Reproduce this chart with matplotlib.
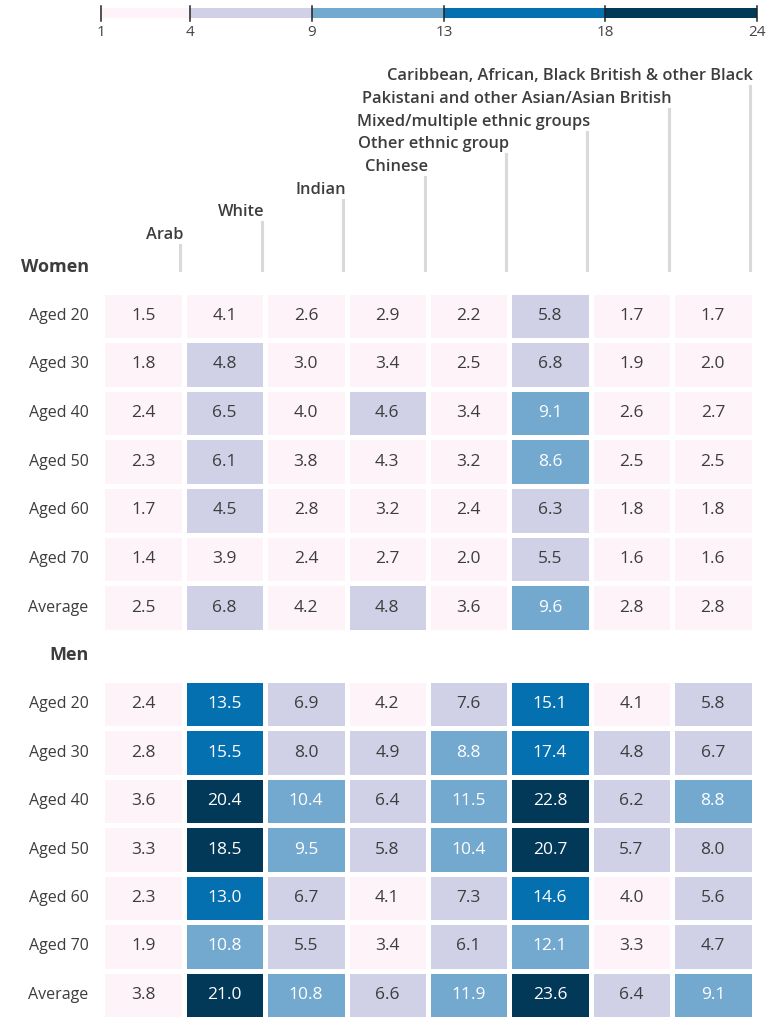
import numpy as np
import matplotlib
matplotlib.use('Agg')
import matplotlib.pyplot as plt
from matplotlib.colors import ListedColormap, BoundaryNorm
from matplotlib.lines import Line2D

plt.rcParams['font.family'] = ['Open Sans', 'DejaVu Sans']

# Data
groups = ['Arab', 'White', 'Indian', 'Chinese', 'Other ethnic group',
          'Mixed/multiple ethnic groups',
          'Pakistani and other Asian/Asian British',
          'Caribbean, African, Black British & other Black']
rows = ['Aged 20', 'Aged 30', 'Aged 40', 'Aged 50', 'Aged 60', 'Aged 70', 'Average']

women = np.array([
    [1.5, 4.1, 2.6, 2.9, 2.2, 5.8, 1.7, 1.7],
    [1.8, 4.8, 3.0, 3.4, 2.5, 6.8, 1.9, 2.0],
    [2.4, 6.5, 4.0, 4.6, 3.4, 9.1, 2.6, 2.7],
    [2.3, 6.1, 3.8, 4.3, 3.2, 8.6, 2.5, 2.5],
    [1.7, 4.5, 2.8, 3.2, 2.4, 6.3, 1.8, 1.8],
    [1.4, 3.9, 2.4, 2.7, 2.0, 5.5, 1.6, 1.6],
    [2.5, 6.8, 4.2, 4.8, 3.6, 9.6, 2.8, 2.8],
])
men = np.array([
    [2.4, 13.5, 6.9, 4.2, 7.6, 15.1, 4.1, 5.8],
    [2.8, 15.5, 8.0, 4.9, 8.8, 17.4, 4.8, 6.7],
    [3.6, 20.4, 10.4, 6.4, 11.5, 22.8, 6.2, 8.8],
    [3.3, 18.5, 9.5, 5.8, 10.4, 20.7, 5.7, 8.0],
    [2.3, 13.0, 6.7, 4.1, 7.3, 14.6, 4.0, 5.6],
    [1.9, 10.8, 5.5, 3.4, 6.1, 12.1, 3.3, 4.7],
    [3.8, 21.0, 10.8, 6.6, 11.9, 23.6, 6.4, 9.1],
])

legend_ticks = ['1', '4', '9', '13', '18', '24']
# colour classes (cut points between displayed colours)
bounds = [0, 4.45, 8.3, 12.5, 18, 25]
colors = ['#fef3f8', '#d0d1e6', '#74a9cf', '#0570b0', '#023858']

# Layout (pixels)
W, H = 773, 1017
fig = plt.figure(figsize=(W / 100, H / 100), dpi=100)
fx = lambda px: px / W
fy = lambda py: 1 - py / H

cmap = ListedColormap(colors)
norm = BoundaryNorm(bounds, cmap.N)
txt_dark = '#3d3d3d'

grid_left, grid_right = 102.5, 753.5
cell_w = (grid_right - grid_left) / len(groups)


def heat(top, bottom, values, title):
    ax = fig.add_axes([fx(grid_left), fy(bottom), fx(grid_right) - fx(grid_left),
                       fy(top) - fy(bottom)])
    ax.pcolormesh(values, cmap=cmap, norm=norm, edgecolors='white', linewidth=2.2)
    ax.set_xlim(0, values.shape[1])
    ax.set_ylim(values.shape[0], 0)
    ax.axis('off')
    for i in range(values.shape[0]):
        ax.text(-0.17, i + 0.5, rows[i], ha='right', va='center',
                fontsize=11.5, color=txt_dark)
        for j in range(values.shape[1]):
            v = values[i, j]
            ax.text(j + 0.5, i + 0.5, '%.1f' % v, ha='center', va='center',
                    fontsize=12.5, color='white' if v >= bounds[2] else txt_dark)
    fig.text(fx(89), fy(top - 25), title, ha='right', va='center',
             fontsize=13, fontweight='bold', color=txt_dark)
    return ax


heat(291.5, 632, women, 'Women')
heat(680, 1019, men, 'Men')

# staggered column headers with guide lines
for j, g in enumerate(groups):
    lx = grid_left + (j + 1) * cell_w - 3.5
    ty = 235 - 22.7 * j
    fig.add_artist(Line2D([fx(lx), fx(lx)], [fy(ty + 10), fy(270)],
                          color='#d9d9d9', linewidth=2.2))
    fig.text(fx(lx + 3), fy(ty), g, ha='right', va='center',
             fontsize=11.8, fontweight='semibold', color=txt_dark)

# legend bar
legend_edges = [101, 190, 312, 444, 605, 757]
lax = fig.add_axes([fx(legend_edges[0]), fy(18), fx(legend_edges[-1]) - fx(legend_edges[0]),
                    fy(8) - fy(18)])
lax.set_xlim(legend_edges[0], legend_edges[-1])
lax.set_ylim(0, 1)
lax.axis('off')
for k, c in enumerate(colors):
    lax.axvspan(legend_edges[k], legend_edges[k + 1], color=c)
for k, t in enumerate(legend_ticks):
    x = fx(legend_edges[k])
    fig.add_artist(Line2D([x, x], [fy(6), fy(21)], color='#222222', linewidth=1.1))
    fig.text(x, fy(32), t, ha='center', va='center', fontsize=11, color='#444444')

fig.savefig('out.png', dpi=100)
